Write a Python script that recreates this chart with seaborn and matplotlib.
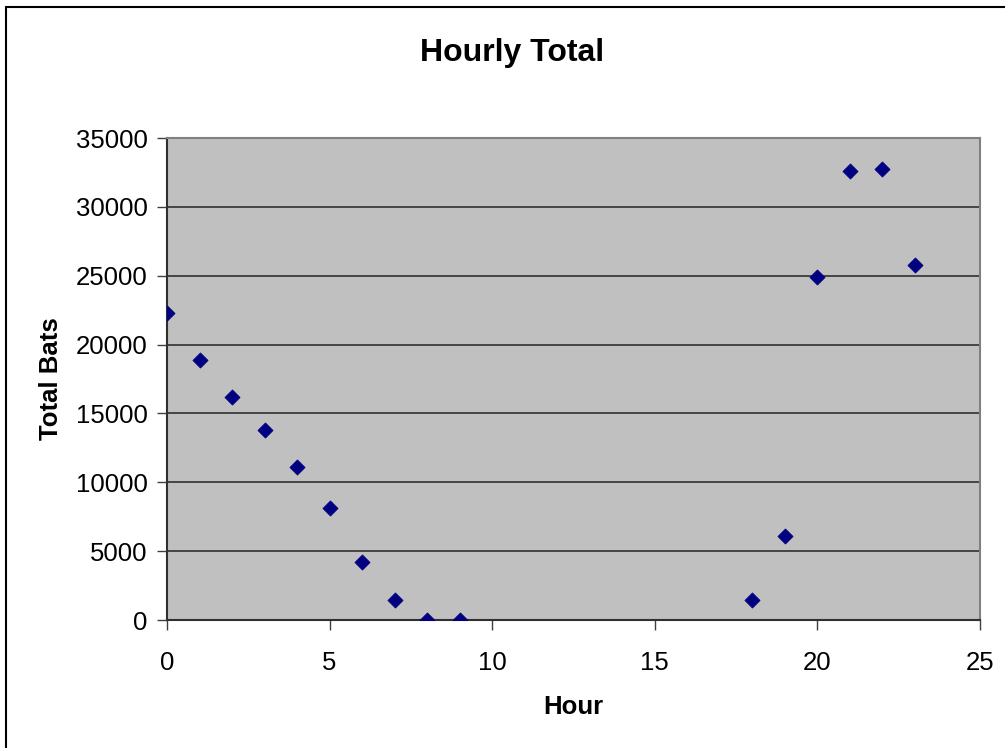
import matplotlib
matplotlib.use("Agg")
import matplotlib.pyplot as plt
import seaborn as sns
import pandas as pd
from matplotlib.patches import Rectangle

hours = [0, 1, 2, 3, 4, 5, 6, 7, 8, 9, 18, 19, 20, 21, 22, 23]
total_bats = [22300, 18900, 16200, 13800, 11100, 8100, 4200, 1450, 0, 0,
              1450, 6100, 24900, 32600, 32750, 25800]
x_ticks = [0, 5, 10, 15, 20, 25]
y_ticks = [0, 5000, 10000, 15000, 20000, 25000, 30000, 35000]

df = pd.DataFrame({"Hour": hours, "Total Bats": total_bats})

sns.set_theme(style="white")
plt.rcParams['font.family'] = ['Liberation Sans', 'DejaVu Sans']
plt.rcParams['text.color'] = 'black'
plt.rcParams['axes.labelcolor'] = 'black'
plt.rcParams['xtick.color'] = 'black'
plt.rcParams['ytick.color'] = 'black'

fig = plt.figure(figsize=(10.05, 7.48), dpi=100)
ax = fig.add_axes([167/1005, 1 - 620/748, (980-167)/1005, (620-138)/748])
ax.set_facecolor('#C0C0C0')

for y in y_ticks[1:]:
    ax.axhline(y, color='#303030', lw=1.2, zorder=1)

sns.scatterplot(data=df, x="Hour", y="Total Bats", ax=ax, marker='D', s=60,
                color='#000080', edgecolor='#000080', linewidth=0.5, zorder=3)

ax.set_xlim(0, 25)
ax.set_ylim(0, 35000)
ax.set_xticks(x_ticks)
ax.set_yticks(y_ticks)
ax.set_xticklabels([str(t) for t in x_ticks])
ax.set_yticklabels([str(t) for t in y_ticks])
ax.tick_params(axis='both', which='both', direction='out', length=7, width=1,
               color='#404040', labelcolor='black', labelsize=18.5,
               left=True, bottom=True)
ax.tick_params(axis='x', pad=15)
ax.tick_params(axis='y', pad=7)
for side in ['top', 'right']:
    ax.spines[side].set_color('#808080')
    ax.spines[side].set_linewidth(1.5)
for side in ['left', 'bottom']:
    ax.spines[side].set_color('#303030')
    ax.spines[side].set_linewidth(1.5)

ax.set_xlabel("Hour", fontsize=18.5, fontweight='bold', labelpad=15, color='black')
ax.set_ylabel("Total Bats", fontsize=18.5, fontweight='bold', labelpad=9, color='black')
fig.text(512/1005, 1 - 53/748, "Hourly Total", fontsize=23, fontweight='bold',
         ha='center', va='center', color='black')

fig.patches.append(Rectangle((6/1005, -0.1), 1.2, 1 - 7/748 + 0.1,
                             transform=fig.transFigure, fill=False,
                             edgecolor='black', lw=1.5))

fig.savefig("out.png", dpi=100)
